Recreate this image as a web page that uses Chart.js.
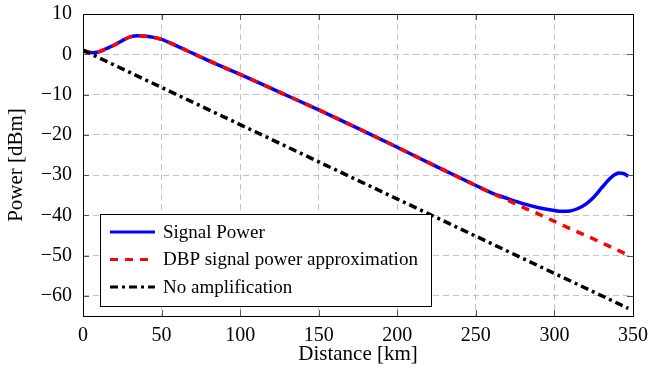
<!DOCTYPE html>
<html>
<head>
<meta charset="utf-8">
<script src="https://cdn.jsdelivr.net/npm/chart.js@4.4.0/dist/chart.umd.js"></script>
<style>
  html, body { margin: 0; padding: 0; background: #fff; }
  #wrap { width: 649px; height: 369px; position: relative; }
</style>
</head>
<body>
<div id="wrap"><canvas id="powerChart"></canvas></div>
<script>
// values
const signalKm = [0, 3, 6, 9, 12, 16, 20, 25, 30, 35, 40, 45, 50, 60, 70, 80, 90, 100, 125, 150, 175, 200, 225, 250,
                  260, 270, 280, 290, 300, 305, 310, 315, 320, 325, 330, 335, 338, 341, 344, 347];
const signalPower = [1.0, 0.6, 0.4, 0.5, 0.9, 1.6, 2.3, 3.4, 4.3, 4.6, 4.5, 4.2, 3.7, 2.0, 0.2, -1.6, -3.3, -5.0, -9.4, -13.8, -18.4, -23.1, -27.9, -32.6,
                     -34.4, -35.8, -37.1, -38.1, -38.8, -39.0, -38.9, -38.3, -37.2, -35.5, -33.2, -31.0, -30.0, -29.5, -29.6, -30.3];

const dbpKm = [0, 3, 6, 9, 12, 16, 20, 25, 30, 35, 40, 45, 50, 60, 70, 80, 90, 100, 125, 150, 175, 200, 225, 250,
               260, 270, 280, 290, 300, 310, 320, 330, 340, 347];
const dbpPower = [1.0, 0.6, 0.4, 0.5, 0.9, 1.6, 2.3, 3.4, 4.3, 4.6, 4.5, 4.2, 3.7, 2.0, 0.2, -1.6, -3.3, -5.0, -9.4, -13.8, -18.4, -23.1, -27.9, -32.6,
                  -34.5, -36.2, -38.0, -39.7, -41.5, -43.3, -45.0, -46.8, -48.6, -49.9];

const noAmpKm = [0, 347];
const noAmpPower = [1.0, -63.1];

const xTicks = [0, 50, 100, 150, 200, 250, 300, 350];
const yTicks = [-60, -50, -40, -30, -20, -10, 0, 10];

const seriesLabels = ['Signal Power', 'DBP signal power approximation', 'No amplification'];

const FONT = 'Liberation Serif';

function toPoints(xs, ys) {
    return xs.map((x, i) => ({ x: x, y: ys[i] }));
}

// axis box + pgfplots style inner tick marks
const frame = {
    id: 'frame',
    afterDatasetsDraw(chart) {
        const { ctx, chartArea: a, scales } = chart;
        ctx.save();
        ctx.strokeStyle = '#555';
        ctx.lineWidth = 1;
        ctx.beginPath();
        xTicks.forEach(v => {
            const px = Math.round(scales.x.getPixelForValue(v)) + 0.5;
            ctx.moveTo(px, a.bottom); ctx.lineTo(px, a.bottom - 6);
            ctx.moveTo(px, a.top); ctx.lineTo(px, a.top + 6);
        });
        yTicks.forEach(v => {
            const py = Math.round(scales.y.getPixelForValue(v)) + 0.5;
            ctx.moveTo(a.left, py); ctx.lineTo(a.left + 6, py);
            ctx.moveTo(a.right, py); ctx.lineTo(a.right - 6, py);
        });
        ctx.stroke();
        ctx.strokeStyle = '#000';
        ctx.strokeRect(Math.round(a.left) + 0.5, Math.round(a.top) + 0.5,
                       Math.round(a.right - a.left), Math.round(a.bottom - a.top));
        ctx.restore();
    }
};

// legend box inside the plot, bottom left
const boxLegend = {
    id: 'boxLegend',
    afterDraw(chart) {
        const { ctx } = chart;
        const x0 = 100, y0 = 214, w = 331, h = 92;
        ctx.save();
        ctx.fillStyle = '#fff';
        ctx.fillRect(x0, y0, w, h);
        ctx.strokeStyle = '#000';
        ctx.lineWidth = 1;
        ctx.strokeRect(x0 + 0.5, y0 + 0.5, w, h);
        const rows = [232, 259.5, 287];
        chart.data.datasets.forEach((ds, i) => {
            const y = rows[i];
            ctx.strokeStyle = ds.borderColor;
            ctx.lineWidth = 3;
            ctx.setLineDash(ds.borderDash || []);
            ctx.beginPath();
            ctx.moveTo(110, y);
            ctx.lineTo(155, y);
            ctx.stroke();
            ctx.setLineDash([]);
            ctx.fillStyle = '#000';
            ctx.font = '19px "' + FONT + '"';
            ctx.textBaseline = 'middle';
            ctx.fillText(ds.label, 163, y + 1);
        });
        ctx.restore();
    }
};

function noLabelPadding(scale) {
    scale.paddingTop = 0;
    scale.paddingBottom = 0;
    scale.paddingLeft = 0;
    scale.paddingRight = 0;
}

const ctx = document.getElementById('powerChart').getContext('2d');
new Chart(ctx, {
    type: 'line',
    data: {
        datasets: [
            {
                label: seriesLabels[0],
                data: toPoints(signalKm, signalPower),
                borderColor: '#0000ff',
                borderWidth: 3.5,
                pointRadius: 0,
                cubicInterpolationMode: 'monotone',
                order: 3
            },
            {
                label: seriesLabels[1],
                data: toPoints(dbpKm, dbpPower),
                borderColor: '#ff0000',
                borderWidth: 3.5,
                borderDash: [8, 7],
                borderCapStyle: 'butt',
                pointRadius: 0,
                cubicInterpolationMode: 'monotone',
                order: 2
            },
            {
                label: seriesLabels[2],
                data: toPoints(noAmpKm, noAmpPower),
                borderColor: '#000000',
                borderWidth: 3.5,
                borderDash: [8, 4, 3, 4],
                borderCapStyle: 'butt',
                pointRadius: 0,
                order: 1
            }
        ]
    },
    options: {
        responsive: true,
        maintainAspectRatio: false,
        animation: false,
        layout: { padding: { top: 14, right: 16, left: 0, bottom: 0 } },
        plugins: {
            legend: { display: false },
            tooltip: { enabled: false }
        },
        scales: {
            x: {
                type: 'linear',
                min: 0,
                max: 350,
                afterBuildTicks: scale => { scale.ticks = xTicks.map(v => ({ value: v })); },
                afterFit: scale => { scale.height = 53; noLabelPadding(scale); },
                grid: { color: '#c4c4c4', lineWidth: 1, drawTicks: false },
                border: { display: false, dash: [6, 4] },
                ticks: {
                    color: '#000',
                    padding: 8,
                    maxRotation: 0,
                    font: { family: FONT, size: 20 }
                },
                title: {
                    display: true,
                    text: 'Distance [km]',
                    color: '#000',
                    font: { family: FONT, size: 21 },
                    padding: { top: 0, bottom: 2 }
                }
            },
            y: {
                min: -65,
                max: 10,
                afterBuildTicks: scale => { scale.ticks = yTicks.map(v => ({ value: v })); },
                afterFit: scale => { scale.width = 83; noLabelPadding(scale); },
                grid: { color: '#c4c4c4', lineWidth: 1, drawTicks: false },
                border: { display: false, dash: [6, 4] },
                ticks: {
                    color: '#000',
                    padding: 11,
                    font: { family: FONT, size: 20 },
                    callback: v => (v < 0 ? '\u2212' + Math.abs(v) : String(v))
                },
                title: {
                    display: true,
                    text: 'Power [dBm]',
                    color: '#000',
                    font: { family: FONT, size: 21 },
                    padding: { top: 4, bottom: 0 }
                }
            }
        }
    },
    plugins: [frame, boxLegend]
});
</script>
</body>
</html>
